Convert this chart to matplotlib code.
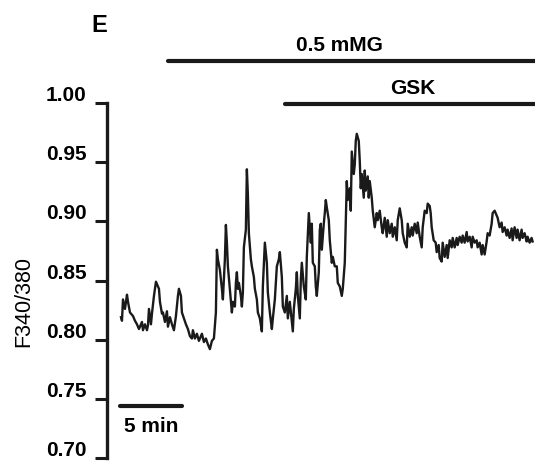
import numpy as np
import matplotlib
matplotlib.use("Agg")
import matplotlib.pyplot as plt
import matplotlib.transforms as mtransforms

plt.rcParams['font.family'] = ['Liberation Sans', 'DejaVu Sans']

# acquisition frames (one frame every 300/62 s) and F340/380 ratio
frames = [1, 2, 3, 5, 7, 8, 10, 13, 15, 17,
          19, 22, 23, 25, 27, 28, 29, 31, 32, 34,
          36, 37, 39, 40, 42, 43, 45, 47, 48, 50,
          52, 54, 56, 58, 59, 61, 62, 64, 66, 68,
          70, 72, 73, 75, 77, 79, 82, 84, 86, 88,
          90, 92, 94, 96, 97, 98, 100, 102, 103, 105,
          106, 107, 108, 110, 112, 113, 115, 116, 117, 118,
          119, 121, 122, 123, 124, 126, 127, 128, 129, 131,
          132, 134, 135, 137, 138, 140, 142, 143, 145, 147,
          148, 150, 152, 153, 155, 157, 159, 160, 162, 163,
          165, 167, 168, 170, 172, 173, 174, 176, 177, 178,
          180, 181, 182, 184, 186, 187, 189, 190, 191, 192,
          193, 195, 196, 197, 199, 200, 201, 202, 204, 205,
          206, 207, 209, 210, 212, 213, 215, 217, 218, 220,
          222, 223, 225, 226, 227, 228, 230, 231, 232, 234,
          235, 236, 237, 239, 240, 241, 242, 244, 245, 246,
          248, 249, 250, 252, 253, 255, 257, 258, 260, 262,
          263, 265, 267, 268, 270, 272, 273, 275, 277, 278,
          280, 282, 283, 285, 287, 288, 290, 292, 293, 295,
          297, 298, 300, 302, 303, 305, 307, 308, 310, 311,
          312, 314, 316, 317, 319, 320, 322, 323, 325, 327,
          328, 330, 332, 333, 335, 337, 338, 340, 342, 343,
          345, 347, 348, 350, 352, 353, 355, 357, 358, 360,
          362, 363, 365, 367, 368, 370, 372, 373, 375, 377,
          378, 380, 382, 383, 385, 387, 388, 390, 392, 393,
          395, 397, 398, 400, 402, 403, 405, 407, 408, 410,
          412, 413]
ratio = [.819, .816, .834, .826, .838, .832, .823, .820, .816, .813,
         .809, .815, .808, .813, .808, .812, .826, .813, .822, .837,
         .849, .847, .843, .832, .822, .823, .815, .824, .811, .819,
         .813, .808, .820, .837, .843, .837, .823, .818, .813, .809,
         .803, .801, .808, .801, .805, .799, .805, .798, .801, .796,
         .792, .799, .801, .823, .876, .868, .859, .843, .834, .868,
         .897, .882, .862, .843, .823, .832, .828, .848, .857, .843,
         .848, .837, .828, .840, .878, .893, .944, .923, .890, .868,
         .862, .853, .843, .834, .823, .818, .807, .845, .882, .865,
         .840, .823, .809, .818, .834, .862, .868, .874, .853, .828,
         .823, .837, .818, .832, .815, .807, .826, .843, .857, .837,
         .818, .851, .865, .845, .834, .870, .907, .895, .882, .898,
         .865, .862, .845, .837, .857, .893, .898, .876, .898, .907,
         .918, .912, .901, .884, .865, .870, .862, .862, .848, .845,
         .837, .843, .865, .901, .934, .918, .928, .909, .959, .940,
         .948, .968, .974, .968, .951, .928, .940, .920, .943, .926,
         .938, .920, .934, .920, .909, .895, .907, .901, .909, .895,
         .890, .903, .887, .901, .890, .898, .887, .895, .884, .901,
         .911, .901, .890, .882, .878, .898, .887, .895, .888, .898,
         .890, .899, .887, .878, .895, .909, .907, .915, .913, .907,
         .895, .884, .882, .874, .880, .869, .866, .882, .870, .880,
         .869, .884, .878, .886, .878, .886, .880, .887, .882, .888,
         .882, .891, .883, .887, .878, .887, .882, .884, .878, .882,
         .872, .880, .872, .883, .890, .888, .898, .907, .909, .905,
         .903, .895, .899, .891, .895, .888, .893, .886, .894, .884,
         .895, .886, .893, .884, .893, .886, .890, .883, .887, .882,
         .886, .883]

frame_min = 5 / 62
t = np.array(frames) * frame_min

# treatment periods (min)
mg_start, gsk_start, t_end = 3.9, 13.3, 33.5

fig = plt.figure(figsize=(5.35, 4.61), dpi=100)
ax = fig.add_axes([0.2, 0.0065, 0.8, 0.77])

ax.plot(t, ratio, color='#1a1a1a', lw=1.7)

ax.set_ylim(0.70, 1.00)
ax.set_xlim(-13 * frame_min, t_end)
ax.set_yticks([0.70, 0.75, 0.80, 0.85, 0.90, 0.95, 1.00])
ax.set_yticklabels(['0.70', '0.75', '0.80', '0.85', '0.90', '0.95', '1.00'],
                   fontsize=15, fontweight='bold')
ax.tick_params(axis='y', length=8.5, width=2.2, pad=6, color='#1a1a1a')
# labels in the original sit a little above their ticks
off = mtransforms.ScaledTranslation(0, 0.095, fig.dpi_scale_trans)
for lab in ax.get_yticklabels():
    lab.set_transform(lab.get_transform() + off)

for s in ['top', 'right', 'bottom']:
    ax.spines[s].set_visible(False)
ax.spines['left'].set_linewidth(2.4)
ax.spines['left'].set_color('#1a1a1a')
ax.set_xticks([])

ax.set_ylabel('F340/380', fontsize=15.5)
ax.yaxis.set_label_coords(-0.17, 0.44)

# treatment bars
ax.plot([mg_start, t_end], [1.0355, 1.0355], color='#1a1a1a', lw=3,
        solid_capstyle='round', clip_on=False)
ax.text((mg_start + t_end) / 2 - 1.0, 1.041, '0.5 mMG', ha='center', va='bottom',
        fontsize=15, fontweight='bold')
ax.plot([gsk_start, t_end], [0.9995, 0.9995], color='#1a1a1a', lw=3,
        solid_capstyle='round', clip_on=False)
ax.text((gsk_start + t_end) / 2 + 0.2, 1.004, 'GSK', ha='center', va='bottom',
        fontsize=15, fontweight='bold')

# scale bar 5 min
ax.plot([0, 5], [0.744, 0.744], color='#1a1a1a', lw=3, solid_capstyle='round')
ax.text(2.5, 0.7345, '5 min', ha='center', va='top', fontsize=15, fontweight='bold')

fig.text(0.17, 0.945, 'E', fontsize=17, fontweight='bold', ha='left', va='center')

fig.savefig('out.png', dpi=100)
